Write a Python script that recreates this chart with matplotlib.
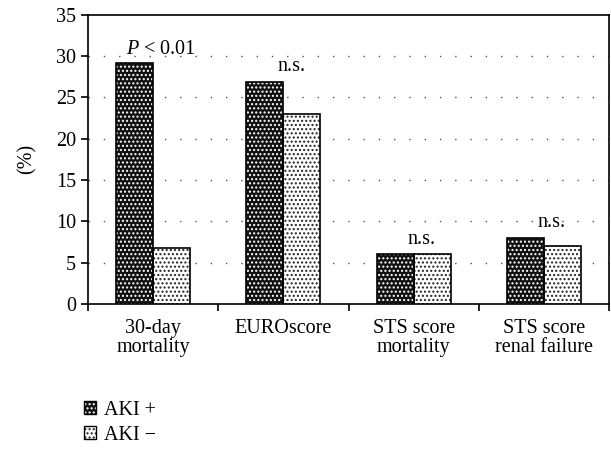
import numpy as np
import matplotlib
matplotlib.use("Agg")
from matplotlib import pyplot as plt
from matplotlib.patches import Patch
from matplotlib.legend_handler import HandlerTuple

categories = ["30-day\nmortality", "EUROscore", "STS score\nmortality", "STS score\nrenal failure"]
aki_pos = [29.2, 26.9, 6.0, 8.0]
aki_neg = [6.8, 23.0, 6.0, 7.0]
notes = ["$P$ < 0.01", "n.s.", "n.s.", "n.s."]
note_y = [29.6, 27.6, 6.7, 8.7]

plt.rcParams["font.family"] = ["Liberation Serif", "DejaVu Serif"]
plt.rcParams["mathtext.fontset"] = "custom"
plt.rcParams["mathtext.it"] = "Liberation Serif:italic"
plt.rcParams["hatch.linewidth"] = 1.0

FS = 14.5

fig = plt.figure(figsize=(6.11, 4.49), dpi=100)
ax = fig.add_axes([0.144, 0.323, 0.853, 0.644])

x = np.arange(len(categories)) + 0.5
w = 0.284

# dark bars: black with white dots
ax.bar(x - w / 2, aki_pos, w, color="#111111", edgecolor="white", hatch="....", linewidth=0, zorder=3)
ax.bar(x - w / 2, aki_pos, w, fill=False, edgecolor="black", linewidth=1.2, zorder=4)
# light bars: white with black dots
ax.bar(x + w / 2, aki_neg, w, color="white", edgecolor="#222222", hatch="....", linewidth=0, zorder=3)
ax.bar(x + w / 2, aki_neg, w, fill=False, edgecolor="black", linewidth=1.2, zorder=4)

for xi, t, yy in zip(x, notes, note_y):
    ax.text(xi + 0.06, yy, t, ha="center", va="bottom", fontsize=FS)

ax.set_xlim(0, 4)
ax.set_ylim(0, 35)
ax.set_yticks(range(0, 36, 5))
ax.set_xticks(range(5))
ax.set_xticklabels([])
ax.set_xticks(x, minor=True)
ax.set_xticklabels(categories, minor=True, fontsize=FS, linespacing=0.95)
ax.tick_params(axis="x", which="minor", length=0, pad=11)
ax.tick_params(axis="x", which="major", length=5, width=1.2)
ax.tick_params(axis="y", length=5, width=1.2, labelsize=FS)
for s in ax.spines.values():
    s.set_linewidth(1.2)

for g in range(5, 31, 5):
    ax.axhline(g, color="#555555", linestyle=(0, (1, 10)), linewidth=1, zorder=1)

ax.set_ylabel("(%)", fontsize=FS, labelpad=14)

h1 = (Patch(facecolor="#111111", edgecolor="white", hatch="....", linewidth=0),
      Patch(fill=False, edgecolor="black", linewidth=1))
h2 = (Patch(facecolor="white", edgecolor="#222222", hatch="....", linewidth=0),
      Patch(fill=False, edgecolor="black", linewidth=1))
fig.legend([h1, h2], ["AKI +", "AKI \u2212"], handler_map={tuple: HandlerTuple(ndivide=1, pad=0)},
           loc="upper left", bbox_to_anchor=(0.137, 0.108), frameon=False,
           fontsize=FS, handlelength=0.6, handleheight=0.6, handletextpad=0.4,
           labelspacing=0.3, borderaxespad=0, borderpad=0)

fig.savefig("out.png", dpi=100)
